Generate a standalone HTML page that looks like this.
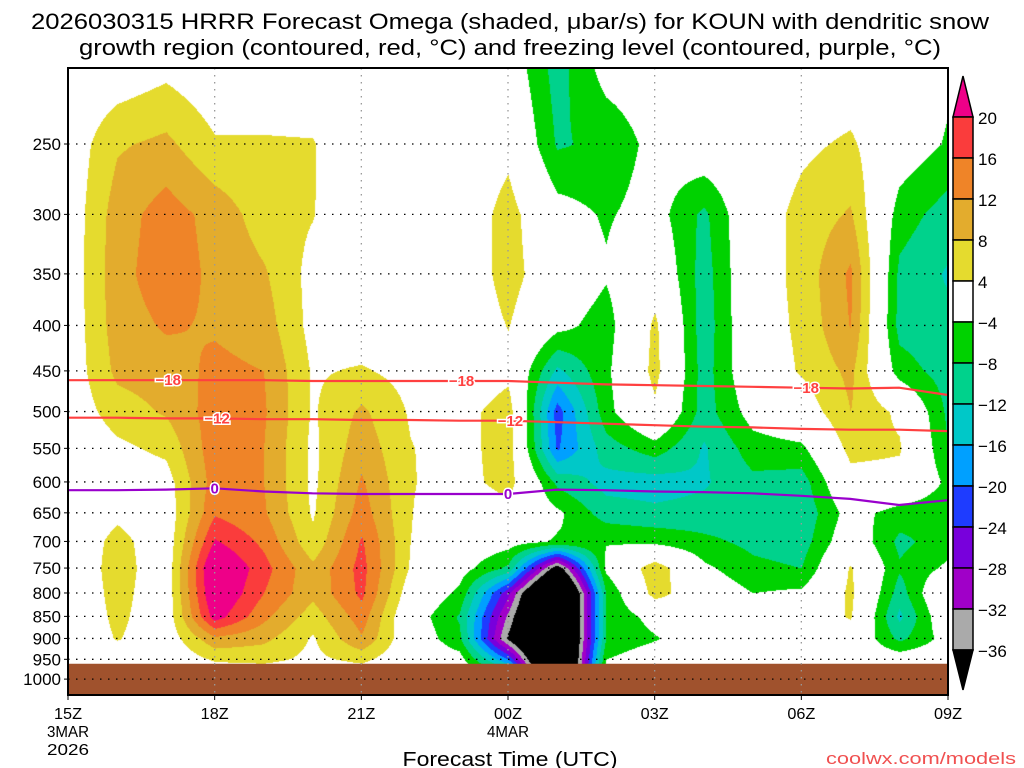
<!DOCTYPE html>
<html><head><meta charset="utf-8"><title>HRRR Omega KOUN</title>
<style>
html,body{margin:0;padding:0;background:#fff;width:1024px;height:768px;overflow:hidden}
#wrap{position:relative;width:1024px;height:768px}
canvas,svg{position:absolute;left:0;top:0}
text{font-family:"Liberation Sans",sans-serif}
</style></head>
<body>
<div id="wrap">
<canvas id="cv" width="1024" height="768"></canvas>
<svg id="sv" width="1024" height="768"></svg>
</div>
<script>
// ---- data ----
const hours = [0,1,2,3,4,5,6,7,8,9,10,11,12,13,14,15,16,17,18];
const pressures = [200,250,300,350,400,450,500,550,600,650,700,750,800,850,900,950,1000];
const xTickLabels = ["15Z","18Z","21Z","00Z","03Z","06Z","09Z"];
const xTickHours = [0,3,6,9,12,15,18];
const yTickLabels = [250,300,350,400,450,500,550,600,650,700,750,800,850,900,950,1000];
const levelBounds = [20,16,12,8,4,-4,-8,-12,-16,-20,-24,-28,-32,-36];
const omegaByHour = [
[0,1,1,1,1,1,1,0,0,0,0,0,0,0,0,0,0],
[0,7.5,10,10.5,10,9,6,3,1,3,5.5,6,5.5,5,4.3,1,0],
[2,9,14,14.5,12.5,10,8.5,5,2,1,1,1,1,1,1,0,0],
[0,4.5,10.5,11,11.5,13,14,14.5,14,15.5,20.5,26,25,22,11,4.5,0],
[0,4.5,6,8.5,10,12,12.5,12,12,12.5,15,17.5,16,13,9,5,0],
[0,4.3,4.2,2.5,2.5,3.5,3.5,3,3,3.5,5,9,9,6,3.5,3,0],
[0,0,0,2,1,4.5,8.8,10.5,12.5,14,16.5,17.5,17,14,11.5,5,0],
[0,0,0,0,0,2.5,3.5,4.2,4.3,4.2,4,3.5,1,-1,0,0,0],
[0,0,0,0,0,0,2,2,2,0,0,-2,-5,-8.5,-7,-2,0],
[-1,2.5,6,6,4.2,2.5,6.5,6.5,6,2,-2,-9,-27,-33,-37,-20,0],
[-10,-8.5,-2,0,-2.5,-13,-22,-20.5,-9,-3,-4.5,-40,-60,-60,-60,-60,-60],
[-1.5,-7,-4.5,-3.5,-6,-5,-5.5,-10,-13.5,-10,-4.2,-3,-8,-8,-8,-4,0],
[-1,-2.5,-2,1,5,5.5,3,-6,-14,-11,-5,7,6,-2,-4.5,0,0],
[0,0,-9,-10,-10.5,-10,-10,-12.5,-12.5,-10.5,-7,-3,0,0,0,0,0],
[0,0,1,1,1,0.5,-2,-6,-9,-10,-9,-7,-4,0,0,0,0],
[0,3,5.5,5.5,5,4.5,1,-5,-10,-11,-10,-8,-3,0,0,0,0],
[0,4.8,8.5,12.8,12.2,9,8,5.5,2,-2,0,4.5,5,4.5,1,0,0],
[0,-1,-6,-9,-9.5,-6,3,4.5,2,-6,-9,-7.5,-10,-13,-9,-1,0],
[-3,-4.5,-10,-12.5,-11,-10,-9,-8,-5,-7,-6,-3,3,1,-2,0,0]
];
const iso18 = [461,461,461,461,461,462,462,462,462,462,464,466,467,468,469,470,471,470,479];
const iso12 = [508,508,509,509,510,510,511,511,512,512,514,516,518,520,521,523,524,524,526];
const iso0  = [613,613,612,610,615,618,619,619,619,619,612,613,615,616,618,622,627,637,629];
const groundPressure = 961;

// ---- axes ----
const X0=68, X1=948, Y0=68, Y1=695;
const PX_PER_HOUR=(X1-X0)/18;
function xOf(h){return X0+h*PX_PER_HOUR;}
function yOf(p){return 144+(Math.log(p)-Math.log(250))*386;}
const colors=["#ee0088","#fa3c3c","#ef8428","#e3ac2d","#e5db2e","#ffffff","#00d200","#00d28c","#00c8c8","#00a0ff","#1e3cff","#7800dc","#a000c8","#aaaaaa","#000000"];
function colorIdx(v){for(let i=0;i<levelBounds.length;i++){if(v>levelBounds[i])return i;}return levelBounds.length;}
function hexRgb(h){return [parseInt(h.substr(1,2),16),parseInt(h.substr(3,2),16),parseInt(h.substr(5,2),16)];}
const rgbs=colors.map(hexRgb);

// ---- shading ----
const cv=document.getElementById('cv');const ctx=cv.getContext('2d');
const img=ctx.createImageData(X1-X0,Y1-Y0);
const rowY=pressures.map(yOf);
for(let py=Y0;py<Y1;py++){
  let r=0;while(r<rowY.length-2&&rowY[r+1]<py)r++;
  let fy=(py-rowY[r])/(rowY[r+1]-rowY[r]);fy=Math.max(0,Math.min(1,fy));
  for(let px=X0;px<X1;px++){
    let t=(px-X0)/PX_PER_HOUR;let c=Math.min(Math.floor(t),hours.length-2);let fx=t-c;
    const a=omegaByHour[c][r],b=omegaByHour[c+1][r],d=omegaByHour[c][r+1],e=omegaByHour[c+1][r+1];
    const v=(a*(1-fx)+b*fx)*(1-fy)+(d*(1-fx)+e*fx)*fy;
    const col=rgbs[colorIdx(v)];const k=((py-Y0)*(X1-X0)+(px-X0))*4;
    img.data[k]=col[0];img.data[k+1]=col[1];img.data[k+2]=col[2];img.data[k+3]=255;
  }
}
ctx.putImageData(img,X0,Y0);

// ---- svg overlay ----
const NS="http://www.w3.org/2000/svg";const sv=document.getElementById('sv');
function mk(tag,attrs,parent){const el=document.createElementNS(NS,tag);for(const k in attrs)el.setAttribute(k,attrs[k]);(parent||sv).appendChild(el);return el;}
function txt(s,attrs,parent){const el=mk('text',attrs,parent);el.textContent=s;return el;}

// ground
const gTop=yOf(groundPressure);
const ground=mk('rect',{x:X0,y:gTop,width:X1-X0,height:Y1-gTop,fill:'#a0522d'});



// grid lines
yTickLabels.forEach(p=>{
  const l=mk('line',{x1:X0,x2:X1,y1:yOf(p),y2:yOf(p),stroke:'#000','stroke-width':1.3,'stroke-dasharray':'1.5 6.5'});
  
  
});
xTickHours.slice(1,-1).forEach(h=>{
  const l=mk('line',{x1:xOf(h),x2:xOf(h),y1:Y0,y2:Y1,stroke:'#999','stroke-width':1.3,'stroke-dasharray':'1.5 5.5'});
  
  
});

// isotherms
function isoLine(arr,color,name,labels,lab){
  const d=arr.map((p,i)=>(i?'L':'M')+xOf(hours[i]).toFixed(1)+' '+yOf(p).toFixed(1)).join(' ');
  const path=mk('path',{d:d,fill:'none',stroke:color,'stroke-width':2.2});
  
  
  labels.forEach(h=>{
    const i=Math.floor(h);const f=h-i;const p=arr[i]*(1-f)+arr[Math.min(i+1,arr.length-1)]*f;
    const t=txt(lab,{x:xOf(h),y:yOf(p)+5,'text-anchor':'middle','font-size':15,'font-weight':'bold',fill:color,stroke:'#fff','stroke-width':3,'paint-order':'stroke'});
    
    
  });
}
isoLine(iso18,'#ff4040','isotherm-minus18',[2.05,8.05,15.1],'\u221218');
isoLine(iso12,'#ff4040','isotherm-minus12',[3.05,9.05],'\u221212');
isoLine(iso0,'#9900cc','freezing-level',[3.0,9.0],'0');

// frame
const fr=mk('rect',{x:X0,y:Y0,width:X1-X0,height:Y1-Y0,fill:'none',stroke:'#000','stroke-width':2});



// y axis labels
yTickLabels.forEach(p=>{
  const t=txt(String(p),{x:61,y:yOf(p)+6,'text-anchor':'end','font-size':17,fill:'#000'});
  
  
  mk('line',{x1:X0-4,x2:X0,y1:yOf(p),y2:yOf(p),stroke:'#000','stroke-width':1});
});
// x axis labels
xTickHours.forEach((h,i)=>{
  mk('line',{x1:xOf(h),x2:xOf(h),y1:Y1,y2:Y1+5,stroke:'#000','stroke-width':1});
  const t=txt(xTickLabels[i],{x:xOf(h),y:719,'text-anchor':'middle','font-size':16,fill:'#000',textLength:28,lengthAdjust:'spacingAndGlyphs'});
  
  
});
[['3MAR',xOf(0),737],['2026',xOf(0),755],['4MAR',xOf(9),737]].forEach(a=>{
  const t=txt(a[0],{x:a[1],y:a[2],'text-anchor':'middle','font-size':16,fill:'#000',textLength:42,lengthAdjust:'spacingAndGlyphs'});
  
  
});
const xt=txt('Forecast Time (UTC)',{x:510,y:766,'text-anchor':'middle','font-size':20,fill:'#000',textLength:215,lengthAdjust:'spacingAndGlyphs'});


const cr=txt('coolwx.com/models',{x:1016,y:764,'text-anchor':'end','font-size':17,fill:'#f05050',textLength:190,lengthAdjust:'spacingAndGlyphs'});



// title
const t1=txt('2026030315 HRRR Forecast Omega (shaded, \u03bcbar/s) for KOUN with dendritic snow',{x:510,y:29,'text-anchor':'middle','font-size':22,fill:'#000',textLength:958,lengthAdjust:'spacingAndGlyphs'});


const t2=txt('growth region (contoured, red, \u00b0C) and freezing level (contoured, purple, \u00b0C)',{x:510,y:55,'text-anchor':'middle','font-size':22,fill:'#000',textLength:862,lengthAdjust:'spacingAndGlyphs'});



// colorbar
const CBX=953,CBW=20,CBT=117,CBS=41;
const topTri=mk('polygon',{points:`${CBX},${CBT} ${CBX+CBW},${CBT} ${CBX+CBW/2},76`,fill:colors[0],stroke:'#000','stroke-width':1.5});


for(let i=1;i<colors.length-1;i++){
  const r=mk('rect',{x:CBX,y:CBT+(i-1)*CBS,width:CBW,height:CBS,fill:colors[i],stroke:'#000','stroke-width':1.5});
  
  
}
const yb=CBT+(colors.length-2)*CBS;
const botTri=mk('polygon',{points:`${CBX},${yb} ${CBX+CBW},${yb} ${CBX+CBW/2},690`,fill:'#000',stroke:'#000','stroke-width':1.5});


levelBounds.forEach((v,i)=>{
  const s=v<0?'\u2212'+(-v):String(v);
  const t=txt(s,{x:978,y:CBT+i*CBS+7,'font-size':17,fill:'#000'});
  
  
});
</script>
</body></html>
